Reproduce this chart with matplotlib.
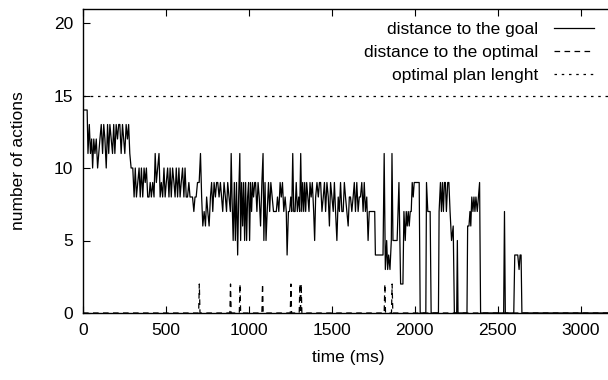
import matplotlib
matplotlib.use("Agg")
import matplotlib.pyplot as plt

plt.rcParams['font.family'] = ['Liberation Sans', 'DejaVu Sans']

# distance to the goal (time in ms, number of actions)
goal_time = [
    0, 25, 30, 38, 45, 52, 58, 65, 72, 80, 88, 95, 102, 110, 118, 125, 132, 140, 148, 155,
    162, 170, 178, 185, 192, 200, 208, 215, 222, 230, 238, 245, 252, 260, 268, 275, 282, 290,
    300, 308, 315, 322, 330, 338, 345, 352, 360, 368, 375, 382, 390, 398, 405, 412, 420, 428,
    435, 442, 450, 458, 465, 472, 480, 488, 495, 502, 510, 518, 525, 532, 540, 548, 555, 562,
    570, 578, 585, 592, 600, 608, 615, 622, 630, 638, 645, 652, 660, 668, 675, 682, 690,
    700, 708, 715, 722, 730, 738, 745, 752, 760, 768, 775, 782, 790, 798, 805, 812, 820, 828,
    835, 842, 850, 858, 865, 872, 880,
    888, 893, 898, 905, 912, 918, 925, 932, 938, 945, 950, 956, 962, 968, 974, 980, 986, 992,
    998, 1004, 1010, 1016, 1022, 1028, 1035,
    1040, 1048, 1055, 1062, 1070, 1078, 1085, 1090, 1097, 1103, 1110, 1118, 1125, 1132, 1140,
    1148, 1155, 1165, 1172, 1180, 1188, 1195, 1202, 1210, 1218, 1225, 1230, 1238, 1245, 1252,
    1258, 1264, 1270, 1278, 1285, 1292, 1300, 1306, 1312, 1318, 1324, 1330, 1336, 1342, 1348,
    1355, 1362, 1368, 1375, 1382, 1390, 1396, 1402, 1410, 1418, 1425, 1432, 1440, 1448, 1455,
    1462, 1470, 1478, 1485, 1492, 1500, 1508, 1515, 1522, 1530, 1538, 1545, 1552, 1560, 1568,
    1575, 1582, 1590, 1598, 1605, 1612, 1620, 1628, 1635, 1642, 1650, 1658, 1665, 1672, 1680,
    1688, 1695, 1702, 1710, 1718, 1725, 1758,
    1762, 1808, 1815, 1822, 1830, 1836, 1842, 1850, 1858, 1862, 1868, 1893, 1904, 1914, 1928,
    1934, 1942, 1948, 1954, 1960, 1966, 1972, 1978, 1984, 1990, 1996, 2026, 2032, 2066, 2070,
    2078, 2092, 2098, 2142, 2146, 2154, 2160, 2166, 2172, 2178, 2184, 2190, 2198, 2205, 2212,
    2221, 2231, 2238, 2252, 2256, 2260, 2314, 2318, 2326, 2332, 2337, 2343, 2350, 2356, 2362,
    2368, 2376, 2390, 2396, 2535, 2540, 2545, 2596, 2602, 2620, 2628, 2634, 2640, 2645, 3200,
]
goal_actions = [
    14, 14, 11, 13, 11, 12, 10, 12, 11, 12, 10, 11, 12, 13, 11, 13, 12, 10, 13, 11,
    13, 12, 11, 13, 11, 13, 12, 13, 13, 11, 13, 12, 11, 13, 12, 13, 11, 10,
    10, 8, 10, 8, 9, 10, 8, 10, 8, 10, 9, 10, 8, 8, 9, 8, 9, 8,
    11, 9, 10, 11, 8, 9, 8, 10, 8, 9, 10, 8, 10, 8, 10, 9, 8, 10,
    8, 10, 8, 9, 10, 8, 10, 8, 8, 9, 8, 8, 8, 7, 8, 8, 9,
    9, 11, 8, 6, 7, 6, 8, 7, 6, 8, 9, 7, 9, 8, 9, 9, 8, 9,
    8, 7, 9, 8, 7, 9, 8,
    7, 11, 8, 5, 9, 5, 9, 4, 8, 11, 5, 9, 6, 9, 5, 9, 5, 8,
    9, 5, 9, 7, 9, 8, 9,
    9, 7, 9, 8, 6, 9, 11, 5, 9, 5, 7, 9, 7, 9, 8,
    7, 7, 7, 8, 7, 9, 8, 9, 7, 8, 7, 4, 7, 7, 8,
    7, 11, 7, 7, 9, 7, 8, 7, 11, 7, 9, 7, 9, 7, 9,
    8, 7, 9, 8, 9, 7, 5, 8, 9, 8, 9, 9, 7, 8, 9,
    7, 9, 8, 6, 9, 8, 7, 9, 7, 5, 8, 7, 9, 7, 7,
    9, 8, 7, 6, 8, 8, 7, 8, 9, 7, 9, 7, 8, 8, 9,
    7, 9, 7, 8, 5, 7, 7,
    4, 4, 11, 3, 5, 3, 4, 3, 5, 11, 5, 5, 9, 2, 2,
    7, 5, 7, 6, 7, 6, 7, 7, 9, 8, 9, 9, 0, 0, 9,
    7, 7, 0, 0, 7, 9, 7, 9, 7, 9, 9, 7, 9, 9, 7,
    5, 6, 0, 0, 5, 0, 0, 6, 6, 7, 6, 8, 7, 8, 7,
    8, 7, 9, 0, 0, 7, 0, 0, 4, 4, 3, 4, 4, 0, 0,
]
assert len(goal_time) == len(goal_actions)

# distance to the optimal plan
optimal_dist_time = [0, 697, 701, 705, 885, 889, 893, 942, 946, 950, 1078, 1082, 1086,
                     1249, 1253, 1257, 1303, 1307, 1311, 1315, 1319, 1815, 1819, 1823,
                     1859, 1863, 1867, 3200]
optimal_dist_actions = [0, 0, 2, 0, 0, 2, 0, 0, 2, 0, 0, 2, 0,
                        0, 2, 0, 0, 2, 0, 2, 0, 0, 2, 0,
                        0, 2, 0, 0]

# optimal plan length
optimal_plan_length = 15

x_ticks = [0, 500, 1000, 1500, 2000, 2500, 3000]
y_ticks = [0, 5, 10, 15, 20]

fig = plt.figure(figsize=(6.08, 3.8), dpi=100)
ax = fig.add_axes([83 / 608, 67 / 380, (614 - 83) / 608, (313 - 8.5) / 380])

lw = 0.9
ax.plot(goal_time, goal_actions, color='black', lw=lw, label='distance to the goal')
ax.plot(optimal_dist_time, optimal_dist_actions, color='black', lw=lw,
        linestyle=(0, (4.5, 3.5)), label='distance to the optimal')
ax.axhline(optimal_plan_length, color='black', lw=lw, linestyle=(0, (2.0, 3.8)),
           label='optimal plan lenght')

ax.set_xlim(0, 3200)
ax.set_ylim(0, 21)
ax.set_xticks(x_ticks)
ax.set_yticks(y_ticks)
ax.tick_params(direction='in', top=True, right=False, length=5, width=0.8,
               labelsize=12.5, pad=7)
for s in ax.spines.values():
    s.set_linewidth(1.0)

ax.set_xlabel('time (ms)', fontsize=12.5, labelpad=9)
ax.set_ylabel('number of actions', fontsize=12.5, labelpad=20)

ax.legend(loc='upper right', bbox_to_anchor=(594 / 608, 1 - 22 / 380),
          bbox_transform=fig.transFigure, frameon=False, markerfirst=False,
          fontsize=12.5, handlelength=2.3, handletextpad=0.9, labelspacing=0.45,
          borderpad=0, borderaxespad=0)

fig.savefig('out.png', dpi=100)
